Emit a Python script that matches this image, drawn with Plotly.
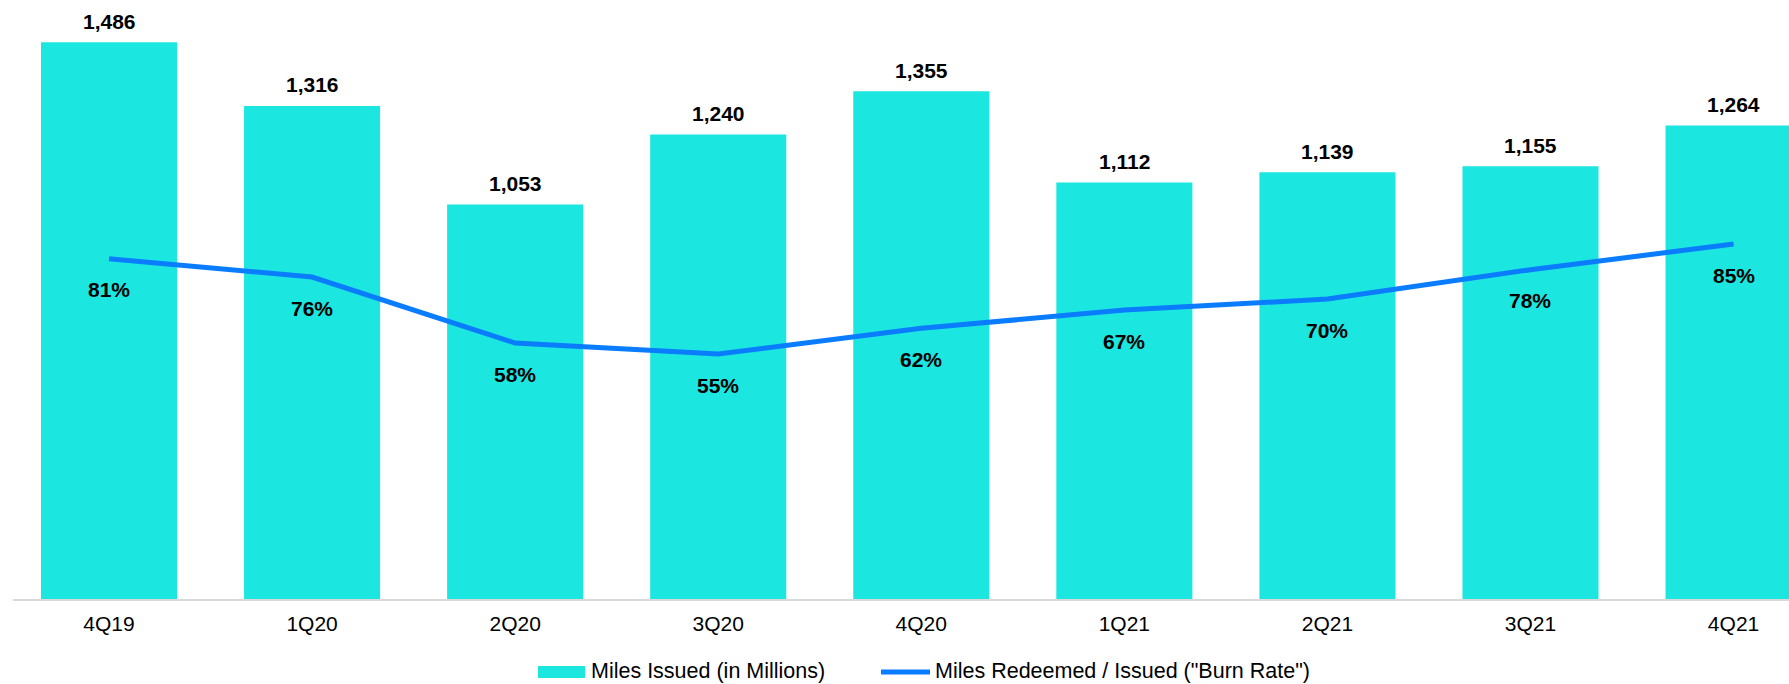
import plotly.graph_objects as go

quarters = ["4Q19", "1Q20", "2Q20", "3Q20", "4Q20", "1Q21", "2Q21", "3Q21", "4Q21"]
miles_issued = [1486, 1316, 1053, 1240, 1355, 1112, 1139, 1155, 1264]
burn_rate = [81, 76, 58, 55, 62, 67, 70, 78, 85]
series_names = ["Miles Issued (in Millions)", 'Miles Redeemed / Issued ("Burn Rate")']

BAR_COLOR = "#1CE6E0"
LINE_COLOR = "#0A7DFF"
FONT = "Liberation Sans, Arial, sans-serif"

W, H = 1789, 684
ML, MR, MT, MB = 13, 0, 0, 85
PW, PH = W - ML - MR, H - MT - MB


def px_x(px):
    return (px - ML) / PW


def px_y(py):
    return (H - MB - py) / PH


fig = go.Figure()
fig.add_trace(go.Bar(
    x=quarters, y=miles_issued, name=series_names[0],
    marker=dict(color=BAR_COLOR, line=dict(width=0)), width=0.67, showlegend=False,
))
fig.add_trace(go.Scatter(
    x=quarters, y=burn_rate, name=series_names[1],
    mode="lines", line=dict(color=LINE_COLOR, width=5), yaxis="y2", showlegend=False,
))

annotations = []
for q, v in zip(quarters, miles_issued):
    annotations.append(dict(x=q, y=v, xref="x", yref="y", text=f"<b>{v:,}</b>",
                            showarrow=False, yshift=21, yanchor="middle",
                            font=dict(family=FONT, size=21, color="#000")))
for q, v in zip(quarters, burn_rate):
    annotations.append(dict(x=q, y=v, xref="x", yref="y2", text=f"<b>{v}%</b>",
                            showarrow=False, yshift=-31, yanchor="middle",
                            font=dict(family=FONT, size=21, color="#000")))

# manual legend
legend_text_y = 671
annotations.append(dict(x=px_x(589), y=px_y(legend_text_y), xref="paper", yref="paper",
                        text=series_names[0], showarrow=False, xanchor="left", yanchor="middle",
                        font=dict(family=FONT, size=21.5, color="#000")))
annotations.append(dict(x=px_x(933), y=px_y(legend_text_y), xref="paper", yref="paper",
                        text=series_names[1], showarrow=False, xanchor="left", yanchor="middle",
                        font=dict(family=FONT, size=21.5, color="#000")))
shapes = [
    dict(type="rect", xref="paper", yref="paper", x0=px_x(538), x1=px_x(585),
         y0=px_y(678), y1=px_y(666), fillcolor=BAR_COLOR, line=dict(width=0)),
    dict(type="line", xref="paper", yref="paper", x0=px_x(881), x1=px_x(930),
         y0=px_y(672), y1=px_y(672), line=dict(color=LINE_COLOR, width=5)),
]

fig.update_layout(
    width=W, height=H,
    margin=dict(l=ML, r=MR, t=MT, b=MB),
    paper_bgcolor="white", plot_bgcolor="white",
    font=dict(family=FONT, size=21, color="#000"),
    showlegend=False,
    xaxis=dict(type="category", range=[-0.4728, 8.273], showgrid=False,
               showline=True, linecolor="#D9D9D9", linewidth=2, ticks="",
               ticklabelstandoff=5,
               tickfont=dict(family=FONT, size=21, color="#000"), zeroline=False),
    yaxis=dict(range=[0, 1598.9], showgrid=False, showticklabels=False,
               zeroline=False, showline=False),
    yaxis2=dict(range=[-11.8, 151.54], overlaying="y", side="right", showgrid=False,
                showticklabels=False, zeroline=False, showline=False),
    annotations=annotations,
    shapes=shapes,
)

fig.write_html("out.html")
